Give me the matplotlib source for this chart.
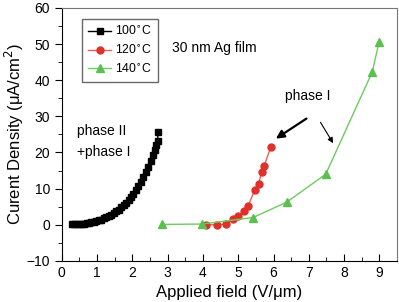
import matplotlib
matplotlib.use("Agg")
import matplotlib.pyplot as plt
from matplotlib.ticker import MultipleLocator

plt.rcParams['font.family'] = ['Liberation Sans', 'DejaVu Sans']

# 100°C
x_100 = [0.28, 0.35, 0.42, 0.49, 0.56, 0.63, 0.70, 0.77, 0.84, 0.91, 0.98, 1.05, 1.12,
         1.19, 1.26, 1.33, 1.40, 1.47, 1.54, 1.61, 1.68, 1.75, 1.82, 1.89, 1.96, 2.03,
         2.10, 2.17, 2.24, 2.31, 2.38, 2.45, 2.52, 2.58, 2.63, 2.68, 2.72, 2.72]
y_100 = [0.1, 0.1, 0.15, 0.2, 0.25, 0.3, 0.4, 0.5, 0.65, 0.8, 1.0, 1.2, 1.45,
         1.75, 2.05, 2.4, 2.8, 3.2, 3.7, 4.2, 4.8, 5.4, 6.1, 6.9, 7.7, 8.6,
         9.6, 10.7, 11.9, 13.2, 14.6, 16.1, 17.7, 19.2, 20.6, 22.0, 23.2, 25.6]
# 120°C
x_120 = [4.1, 4.39, 4.64, 4.84, 5.0, 5.17, 5.28, 5.47, 5.58, 5.66, 5.73, 5.92]
y_120 = [0.0, 0.0, 0.1, 1.6, 2.5, 3.9, 5.2, 9.7, 11.4, 14.5, 16.2, 21.4]
# 140°C
x_140 = [2.84, 3.96, 5.42, 6.38, 7.48, 8.80, 8.99]
y_140 = [0.1, 0.2, 2.0, 6.3, 14.0, 42.3, 50.5]

fig = plt.figure(figsize=(3.99, 3.02), dpi=100)
ax = fig.add_axes([0.155, 0.136, 0.84, 0.838])

ax.plot(x_100, y_100, color="black", marker="s", ms=4.5, lw=1, label="100$^{\\circ}$C")
ax.plot(x_120, y_120, color="#e8625a", marker="o", ms=5, mfc="#e0302a", mec="#e0302a",
        lw=1, label="120$^{\\circ}$C")
ax.plot(x_140, y_140, color="#6dcc5e", marker="^", ms=5.5, mfc="#5cc050", mec="#5cc050",
        lw=1, label="140$^{\\circ}$C")

ax.set_xlim(0, 9.5)
ax.set_ylim(-10, 60)
ax.xaxis.set_major_locator(MultipleLocator(1))
ax.xaxis.set_minor_locator(MultipleLocator(0.5))
ax.yaxis.set_major_locator(MultipleLocator(10))
ax.yaxis.set_minor_locator(MultipleLocator(5))
ax.tick_params(axis="x", which="both", direction="in", labelsize=10, pad=4)
ax.tick_params(axis="x", which="major", length=5)
ax.tick_params(axis="x", which="minor", length=3)
ax.tick_params(axis="y", which="both", direction="out", labelsize=10)
ax.tick_params(axis="y", which="major", length=5)
ax.tick_params(axis="y", which="minor", length=3)
for s in ["top", "right"]:
    ax.spines[s].set_color("#777777")

ax.set_xlabel("Applied field (V/\u03bcm)", fontsize=12, labelpad=3)
ax.set_ylabel("Curent Density (\u03bcA/cm$^2$)", fontsize=12)
ax.yaxis.set_label_coords(-0.108, 0.5)

leg = ax.legend(loc="upper left", bbox_to_anchor=(0.06, 0.955), fontsize=8.8,
                frameon=True, fancybox=False, edgecolor="#444444", handlelength=1.9,
                borderpad=0.5, labelspacing=0.45, handletextpad=0.3, borderaxespad=0)
leg.get_frame().set_linewidth(1)

ax.text(3.12, 49, "30 nm Ag film", fontsize=10, va="center")
ax.text(0.42, 25.8, "phase II", fontsize=10, va="center")
ax.text(0.42, 20.2, "+phase I", fontsize=10, va="center")
ax.text(6.97, 35.5, "phase I", fontsize=10, ha="center", va="center")

ax.annotate("", xy=(6.0, 23.4), xytext=(7.0, 29.8),
            arrowprops=dict(arrowstyle="-|>", color="black", lw=1.6, mutation_scale=12))
ax.annotate("", xy=(7.73, 21.9), xytext=(7.29, 29.0),
            arrowprops=dict(arrowstyle="-|>", color="black", lw=0.8, mutation_scale=8))

fig.savefig("out.png", dpi=100)
